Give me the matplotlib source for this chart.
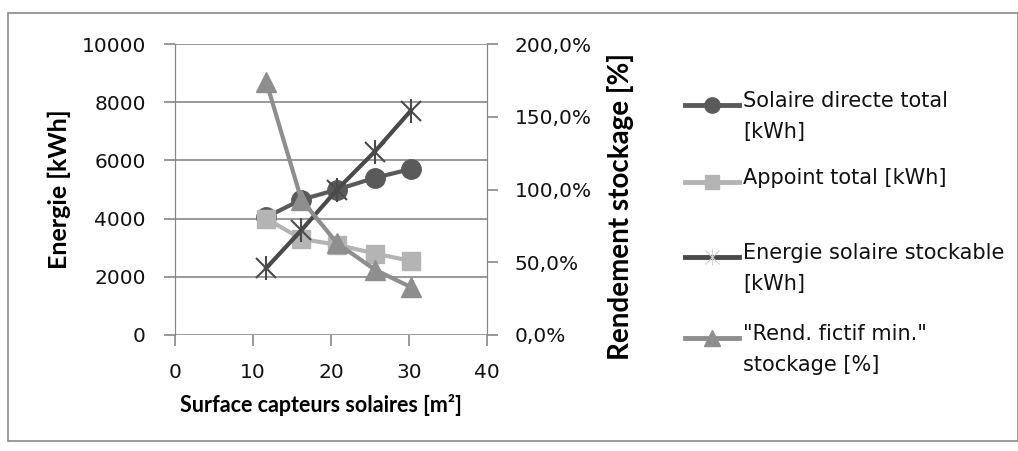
import matplotlib
matplotlib.use("Agg")
import matplotlib.pyplot as plt
from matplotlib.lines import Line2D
from matplotlib.patches import Rectangle
from matplotlib.ticker import FuncFormatter

plt.rcParams['font.family'] = ['DejaVu Sans']

# data
surface = [11.7, 16.2, 20.8, 25.6, 30.2]
solaire_directe = [4050, 4650, 5000, 5400, 5700]
appoint = [4000, 3300, 3100, 2800, 2550]
stockable = [2300, 3600, 5000, 6300, 7700]
rendement = [174, 93, 63, 45, 33]

labels = ['Solaire directe total\n[kWh]', 'Appoint total [kWh]',
          'Energie solaire stockable\n[kWh]', '"Rend. fictif min."\nstockage [%]']

c_dir = '#5a5a5a'
c_app = '#b4b4b4'
c_sto = '#4a4a4a'
c_ren = '#8e8e8e'
grid_c = '#878787'

W, H = 1018, 451
fig = plt.figure(figsize=(W / 100, H / 100), dpi=100)
fig.patches.append(Rectangle((8 / W, 10 / H), 1 - 8 / W, 1 - 23 / H, transform=fig.transFigure,
                             fill=False, edgecolor='#8a8a8a', lw=1.2))

ax = fig.add_axes([175 / W, 1 - 335 / H, 312 / W, 291 / H])
ax2 = ax.twinx()

ax.plot(surface, solaire_directe, color=c_dir, lw=3, marker='o', ms=14, zorder=3)
ax.plot(surface, appoint, color=c_app, lw=3, marker='s', ms=13, zorder=3)
ax.plot(surface, stockable, color=c_sto, lw=3, zorder=4)
ax.plot(surface, stockable, ls='none', marker='x', ms=15, mew=1.5, color=c_sto, zorder=4)
ax.plot(surface, stockable, ls='none', marker='|', ms=17, mew=1.5, color=c_sto, zorder=4)
ax2.plot(surface, rendement, color=c_ren, lw=3, marker='^', ms=15, zorder=5)

ax.set_xlim(0, 40)
ax.set_ylim(0, 10000)
ax2.set_ylim(0, 200)
ax.set_xticks([0, 10, 20, 30, 40])
ax.set_yticks(range(0, 10001, 2000))
ax2.set_yticks(range(0, 201, 50))
ax2.yaxis.set_major_formatter(FuncFormatter(lambda v, p: ('%.1f%%' % v).replace('.', ',')))

ax.grid(axis='y', color=grid_c, lw=1.2)
ax.set_axisbelow(True)
for a in (ax, ax2):
    a.spines['top'].set_visible(False)
    a.spines['bottom'].set_visible(False)
    a.spines['left'].set_color(grid_c)
    a.spines['right'].set_color(grid_c)
    a.tick_params(colors=grid_c, labelcolor='#111111', labelsize=14.5, length=8, width=1.2)
ax.tick_params(axis='x', pad=12)
ax.tick_params(axis='y', pad=13)
ax2.tick_params(axis='y', pad=12)

# axis titles
fig.text(321 / W, 1 - 405 / H, 'Surface capteurs solaires [m²]', family='Lato', fontsize=15.5,
         fontweight='bold', ha='center', va='center')
fig.text(59 / W, 1 - 189 / H, 'Energie [kWh]', family='Lato', fontsize=18,
         fontweight='bold', rotation=90, ha='center', va='center')
fig.text(620 / W, 1 - 207 / H, 'Rendement stockage [%]', family='Lato', fontsize=20,
         fontweight='bold', rotation=90, ha='center', va='center')

# legend drawn by hand so the handles sit on the first text line
handles = [
    dict(color=c_dir, marker='o', ms=11, mc=c_dir, mew=1),
    dict(color=c_app, marker='s', ms=10, mc=c_app, mew=1),
    dict(color=c_sto, marker='x', ms=10, mc='#d0d0d0', mew=0.8),
    dict(color=c_ren, marker='^', ms=11, mc=c_ren, mew=1),
]
ys = [105, 182, 257, 338]
for h, lab, y in zip(handles, labels, ys):
    yf = 1 - y / H
    fig.add_artist(Line2D([685 / W, 739 / W], [yf, yf], transform=fig.transFigure,
                          color=h['color'], lw=3.5))
    fig.add_artist(Line2D([712 / W], [yf], transform=fig.transFigure, color=h['mc'],
                          marker=h['marker'], ms=h['ms'], mew=h['mew']))
    if h['marker'] == 'x':
        fig.add_artist(Line2D([712 / W], [yf], transform=fig.transFigure, color=h['mc'],
                              marker='|', ms=12, mew=h['mew']))
    fig.text(743 / W, yf + 14 / H, lab, fontsize=15, va='top', ha='left',
             linespacing=1.7, color='#111111')

fig.savefig('out.png', dpi=100)
